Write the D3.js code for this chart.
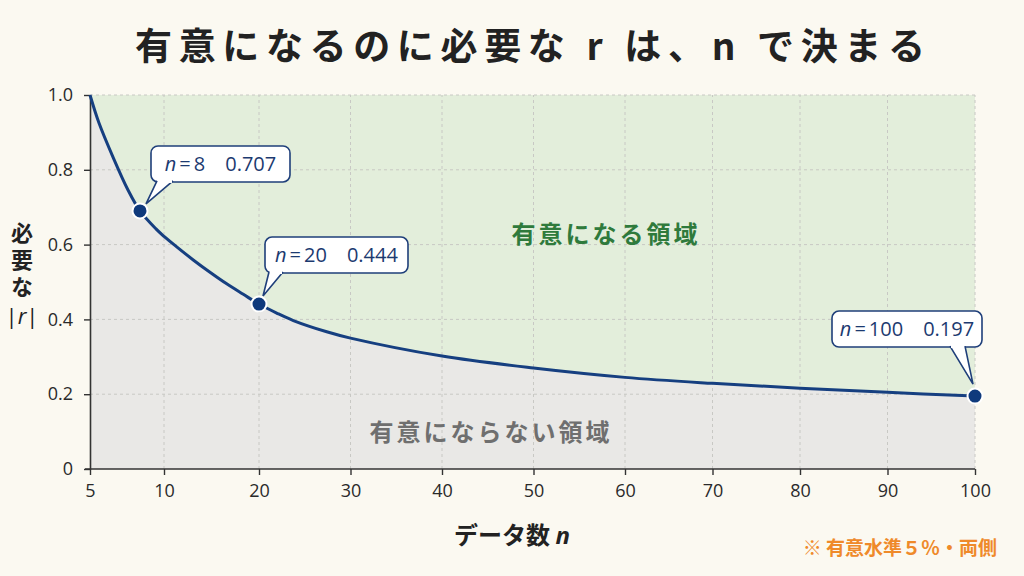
<!DOCTYPE html>
<html><head><meta charset="utf-8">
<script src="https://cdn.jsdelivr.net/npm/d3@7/dist/d3.min.js"></script>
<style>
html,body{margin:0;padding:0;background:#fbf9f1;}
svg{display:block;}
</style></head>
<body>
<svg id="chart" width="1024" height="576"></svg>
<script>
// ---- data ----
const xTicks = [5, 10, 20, 30, 40, 50, 60, 70, 80, 90, 100];
const yTicks = [0, 0.2, 0.4, 0.6, 0.8, 1.0];
const curveN = [5, 5.54, 6.38, 7.28, 8, 9.33, 10, 11.34, 13.08, 14.84, 16.6, 18.35, 20, 21.93, 23.75, 27.4, 30, 40, 50, 60, 70, 80, 90, 100];
const curveR = [1.0, 0.925, 0.834, 0.746, 0.69, 0.642, 0.622, 0.594, 0.559, 0.526, 0.495, 0.467, 0.441, 0.417, 0.397, 0.367, 0.35, 0.302, 0.27, 0.245, 0.229, 0.216, 0.205, 0.195];
const markerN = [8, 20, 100];
const markerR = [0.69, 0.441, 0.195];
const markerLabels = ["0.707", "0.444", "0.197"];

const titleText = "有意になるのに必要な r は、n で決まる";
const sigLabel = "有意になる領域";
const nonSigLabel = "有意にならない領域";
const noteText = "※ 有意水準５％・両側";
const yLabelText = "必要な";

// ---- layout ----
const svg = d3.select("#chart");
const jp = "'Noto Sans CJK JP','Noto Sans',sans-serif";
const num = "'Open Sans','Noto Sans',sans-serif";

const x = d3.scaleLinear().domain([5, 8, 10, 20, 60, 100]).range([90, 140, 164, 259, 625, 975]);
const y = d3.scaleLinear().domain([0, 1]).range([469, 95]);

const curve = curveN.map((n, i) => ({n, r: curveR[i]}));
const interp = d3.curveCatmullRom.alpha(0.5);

svg.append("rect").attr("width", 1024).attr("height", 576).attr("fill", "#fbf9f1");

// regions
svg.append("path").datum(curve)
  .attr("fill", "#e3eedb")
  .attr("d", d3.area().curve(interp).x(d => x(d.n)).y0(y(1)).y1(d => y(d.r)));
svg.append("path").datum(curve)
  .attr("fill", "#e9e8e6")
  .attr("d", d3.area().curve(interp).x(d => x(d.n)).y0(y(0)).y1(d => y(d.r)));

// grid
const grid = svg.append("g").attr("stroke", "#c8c8c4").attr("stroke-width", 1).attr("stroke-dasharray", "3,3");
xTicks.filter(t => t !== 5).forEach(t => {
  grid.append("line").attr("x1", x(t)).attr("x2", x(t)).attr("y1", y(0)).attr("y2", y(1));
});
yTicks.filter(t => t !== 0).forEach(t => {
  grid.append("line").attr("x1", x(5)).attr("x2", x(100)).attr("y1", y(t)).attr("y2", y(t));
});

// axes
const xAxis = svg.append("g").attr("transform", `translate(0,${y(0)})`)
  .call(d3.axisBottom(x).tickValues(xTicks).tickFormat(d3.format("d")).tickSize(6).tickSizeOuter(0).tickPadding(9));
const yAxis = svg.append("g").attr("transform", `translate(${x(5)},0)`)
  .call(d3.axisLeft(y).tickValues(yTicks).tickFormat(d => d === 0 ? "0" : d.toFixed(1)).tickSize(6).tickSizeOuter(0).tickPadding(11));
[xAxis, yAxis].forEach(g => {
  g.select(".domain").attr("stroke", "#333").attr("stroke-width", 1.6);
  g.selectAll(".tick line").attr("stroke", "#333").attr("stroke-width", 1.4);
  g.selectAll(".tick text").attr("fill", "#2a2a2a").style("font-family", num).style("font-size", "18px");
});
xAxis.select(".domain").attr("d", `M${x(5) - 5},0H${x(100)}`);

// curve
svg.append("path").datum(curve)
  .attr("fill", "none").attr("stroke", "#163f80").attr("stroke-width", 3)
  .attr("d", d3.line().curve(interp).x(d => x(d.n)).y(d => y(d.r)));

// region labels
svg.append("text").attr("x", 606).attr("y", 243).attr("text-anchor", "middle")
  .style("font-family", jp).style("font-size", "24px").style("font-weight", 700).style("letter-spacing", "3px")
  .attr("fill", "#2f7a3c").text(sigLabel);
svg.append("text").attr("x", 491).attr("y", 441).attr("text-anchor", "middle")
  .style("font-family", jp).style("font-size", "24px").style("font-weight", 700).style("letter-spacing", "3px")
  .attr("fill", "#6f6f6f").text(nonSigLabel);

// callouts
const calloutLayout = [
  {dx: 11, dy: -65, w: 139, h: 36, b1: 6, b2: 22, tx: 6, ty: -7},
  {dx: 6, dy: -67, w: 143, h: 36, b1: 4, b2: 18, tx: 4, ty: -8},
  {dx: -143, dy: -85, w: 150, h: 36, b1: 118, b2: 133, tx: -2, ty: -12}
];
markerN.forEach((n, i) => {
  const cx = x(n), cy = y(markerR[i]);
  const L = calloutLayout[i];
  const bx = cx + L.dx, by = cy + L.dy;
  const g = svg.append("g");
  g.append("rect").attr("x", bx).attr("y", by).attr("width", L.w).attr("height", L.h)
    .attr("rx", 7).attr("fill", "#fff").attr("stroke", "#1f3f7a").attr("stroke-width", 1.6);
  g.append("path")
    .attr("d", `M${bx + L.b1},${by + L.h - 1}L${cx + L.tx},${cy + L.ty}L${bx + L.b2},${by + L.h - 1}`)
    .attr("fill", "#fff").attr("stroke", "#1f3f7a").attr("stroke-width", 1.6).attr("stroke-linejoin", "miter");
  g.append("rect").attr("x", bx + L.b1 + 1).attr("y", by + L.h - 3).attr("width", L.b2 - L.b1 - 2).attr("height", 4).attr("fill", "#fff");
  const t = g.append("text").attr("x", bx + L.w / 2).attr("y", by + L.h / 2 + 7).attr("text-anchor", "middle")
    .style("font-family", num).style("font-size", "20px").attr("fill", "#1c3a70");
  t.append("tspan").style("font-style", "italic").text("n");
  t.append("tspan").attr("dx", 3).text("=");
  t.append("tspan").attr("dx", 3).text(String(n));
  t.append("tspan").attr("dx", 20).text(markerLabels[i]);
});

// markers
svg.append("g").selectAll("circle").data(markerN).join("circle")
  .attr("cx", d => x(d)).attr("cy", (d, i) => y(markerR[i])).attr("r", 7.5)
  .attr("fill", "#0f3a7c").attr("stroke", "#fff").attr("stroke-width", 2);

// title
const title = svg.append("text").attr("x", 530).attr("y", 60).attr("text-anchor", "middle")
  .style("font-family", jp).style("font-size", "37px").style("font-weight", 700)
  .attr("fill", "#222").text(titleText);
const tl = title.node().getComputedTextLength();
const ls = (790 - tl) / (titleText.length - 1);
title.style("letter-spacing", ls + "px").attr("x", 530 + ls / 2);

// axis titles
const xt = svg.append("text").attr("x", 512).attr("y", 544).attr("text-anchor", "middle")
  .style("font-family", jp).style("font-size", "24px").style("font-weight", 700).attr("fill", "#222");
xt.append("tspan").text("データ数 ");
xt.append("tspan").style("font-style", "italic").style("font-family", num).text("n");

svg.append("text").attr("x", 22).attr("y", 222)
  .style("writing-mode", "vertical-rl").style("font-family", jp).style("font-size", "22px")
  .style("font-weight", 700).style("letter-spacing", "5px").attr("fill", "#222").text(yLabelText);
const rl = svg.append("text").attr("x", 22).attr("y", 324).attr("text-anchor", "middle")
  .style("font-family", num).style("font-size", "22px").attr("fill", "#222");
rl.append("tspan").text("|");
rl.append("tspan").style("font-style", "italic").text("r");
rl.append("tspan").text("|");

// note
svg.append("text").attr("x", 997).attr("y", 555).attr("text-anchor", "end")
  .style("font-family", jp).style("font-size", "19px").style("font-weight", 700)
  .attr("fill", "#ef8a2a").text(noteText);
</script>
</body></html>
